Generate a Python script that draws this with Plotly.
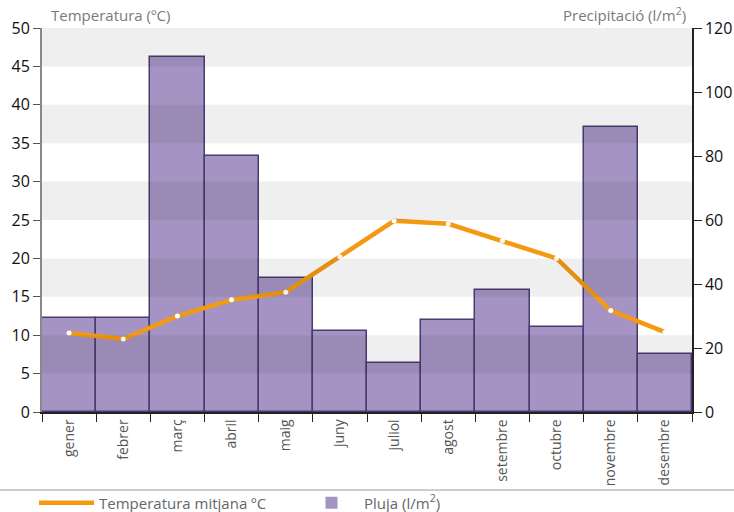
import plotly.graph_objects as go

mesos = ["gener", "febrer", "març", "abril", "maig", "juny", "juliol",
         "agost", "setembre", "octubre", "novembre", "desembre"]
temperatura = [10.3, 9.5, 12.5, 14.6, 15.6, 20.2, 24.9, 24.5, 22.3, 20.0, 13.2, 10.4]
pluja = [29.4, 29.4, 110.9, 80.0, 41.9, 25.3, 15.3, 28.8, 38.1, 26.6, 89.1, 18.1]

temp_ticks = [0, 5, 10, 15, 20, 25, 30, 35, 40, 45, 50]
pluja_ticks = [0, 20, 40, 60, 80, 100, 120]

FONT = "Open Sans, Roboto, sans-serif"
L, R, T, B = 42, 42, 28, 100
W, H = 734, 512
PW, PH = W - L - R, H - T - B
ORANGE = "#F39A12"
LILA = "#A594C3"

fig = go.Figure()

fig.add_trace(go.Bar(
    x=mesos,
    y=pluja,
    name="Pluja (l/m<sup>2</sup>)",
    yaxis="y",
    marker=dict(color=LILA, line=dict(color="#4B3B70", width=1.5)),
    showlegend=False,
))
# entrada de llegenda sense vora
fig.add_trace(go.Bar(
    x=[None],
    y=[None],
    name="Pluja (l/m<sup>2</sup>)",
    yaxis="y",
    marker=dict(color=LILA, line=dict(width=0)),
))
fig.add_trace(go.Scatter(
    x=mesos,
    y=temperatura,
    name="Temperatura mitjana ºC",
    yaxis="y2",
    mode="lines+markers",
    line=dict(color=ORANGE, width=4.5),
    marker=dict(color="white", size=5),
    showlegend=False,
))
# entrada de llegenda nomes amb la linia
fig.add_trace(go.Scatter(
    x=[None],
    y=[None],
    name="Temperatura mitjana ºC",
    yaxis="y2",
    mode="lines",
    line=dict(color=ORANGE, width=4.5),
))

# bandes grises alternes (per sobre de les barres, semitransparents)
for lo in range(5, 50, 10):
    fig.add_shape(
        type="rect", xref="paper", yref="y2",
        x0=0, x1=1, y0=lo, y1=lo + 5,
        fillcolor="rgba(0,0,0,0.062)", line=dict(width=0), layer="above",
    )

# linia separadora de la llegenda
fig.add_shape(
    type="line", xref="paper", yref="paper",
    x0=-L / PW, x1=(W - L) / PW, y0=(412 - 490) / PH, y1=(412 - 490) / PH,
    line=dict(color="#CCCCCC", width=2),
)

fig.add_annotation(
    text="Temperatura (ºC)", xref="paper", yref="paper",
    x=(49 - L) / PW, y=(412 - 15) / PH, xanchor="left", yanchor="middle",
    showarrow=False, font=dict(family=FONT, size=15, color="#7A7A7A"),
)
fig.add_annotation(
    text="Precipitació (l/m<sup>2</sup>)", xref="paper", yref="paper",
    x=(688 - L) / PW, y=(412 - 15) / PH, xanchor="right", yanchor="middle",
    showarrow=False, font=dict(family=FONT, size=15, color="#7A7A7A"),
)

fig.update_layout(
    width=W,
    height=H,
    margin=dict(l=L, r=R, t=T, b=B, autoexpand=False),
    paper_bgcolor="white",
    plot_bgcolor="white",
    font=dict(family=FONT, color="#222222", size=14),
    bargap=0,
    barmode="overlay",
    showlegend=True,
    legend=dict(
        orientation="h",
        xref="container",
        yref="container",
        x=34 / W,
        y=(H - 503) / H,
        xanchor="left",
        yanchor="middle",
        traceorder="reversed",
        itemwidth=55,
        entrywidth=195,
        entrywidthmode="pixels",
        font=dict(family=FONT, size=15, color="#666666"),
        bgcolor="rgba(0,0,0,0)",
    ),
    xaxis=dict(
        type="category",
        range=[-0.5, len(mesos) - 0.5],
        tickangle=-90,
        ticks="outside",
        tickson="boundaries",
        ticklen=8,
        tickcolor="#222222",
        showline=True,
        linecolor="#222222",
        linewidth=1.5,
        showgrid=False,
        tickfont=dict(family=FONT, size=14, color="#555555"),
    ),
    yaxis=dict(
        side="right",
        range=[0, 120],
        tickvals=pluja_ticks,
        ticks="outside",
        ticklen=8,
        tickcolor="#222222",
        showline=True,
        linecolor="#222222",
        linewidth=1.5,
        showgrid=False,
        zeroline=False,
        tickfont=dict(family=FONT, size=16, color="#111111"),
    ),
    yaxis2=dict(
        side="left",
        overlaying="y",
        range=[0, 50],
        tickvals=temp_ticks,
        ticks="outside",
        ticklen=7,
        tickcolor="#555555",
        showline=True,
        linecolor="#888888",
        linewidth=2,
        showgrid=False,
        zeroline=False,
        tickfont=dict(family=FONT, size=16, color="#111111"),
    ),
)

fig.write_html(
    "out.html",
    config={"displayModeBar": False},
    post_script="document.body.style.margin = '0';",
)
